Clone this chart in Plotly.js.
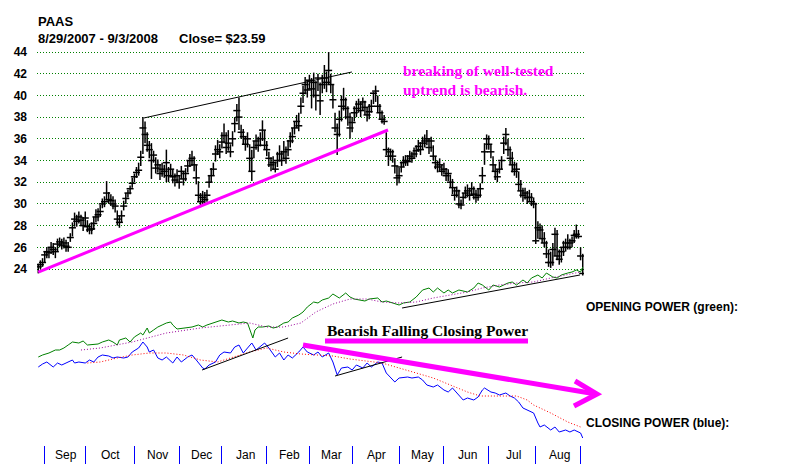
<!DOCTYPE html>
<html><head><meta charset="utf-8">
<script src="https://cdn.plot.ly/plotly-3.0.1.min.js"></script>
<style>html,body{margin:0;padding:0;background:#fff}#chart{width:800px;height:465px}</style>
</head><body><div id="chart"></div>
<script>
// ---------- DATA ----------
const ticker = 'PAAS';
const dateRange = '8/29/2007 - 9/3/2008';
const lastClose = 23.59;
const monthNames = ['Sep','Oct','Nov','Dec','Jan','Feb','Mar','Apr','May','Jun','Jul','Aug','Sep'];
const monthStartDay = [3,22,45,66,86,107,127,147,169,190,211,233,254];
const priceTicks = [24,26,28,30,32,34,36,38,40,42,44];

const high = [
24.5,24.8,25.0,25.6,26.0,26.0,26.5,26.4,26.0,26.8,
26.9,26.8,26.9,26.7,26.5,27.3,28.3,29.2,29.0,29.3,
29.0,28.8,29.3,28.5,28.2,28.3,28.8,29.5,29.6,29.9,
30.5,30.7,32.1,31.1,30.9,30.7,30.4,29.4,28.9,29.4,
30.3,31.0,31.3,31.7,32.4,32.8,33.4,33.8,34.9,38.0,
37.6,36.6,35.8,35.6,34.9,34.3,34.1,33.6,33.8,33.6,
35.0,33.4,33.7,33.2,32.8,33.2,32.6,33.5,33.0,33.3,
34.0,34.6,34.9,34.4,33.6,32.1,31.0,31.2,31.1,31.3,
32.6,33.3,33.8,35.4,35.9,35.5,36.6,37.4,36.6,36.8,
35.5,36.7,38.0,39.2,39.8,37.3,36.9,36.2,36.6,35.5,
35.0,35.8,36.4,36.2,36.6,37.7,36.8,35.8,34.8,34.3,
34.4,33.9,34.8,35.4,34.9,35.8,35.3,35.9,36.6,37.0,
37.6,38.2,38.4,39.8,40.9,41.7,41.4,41.9,41.6,42.1,
41.3,42.0,41.2,41.9,42.8,42.2,44.0,42.0,41.0,38.4,
37.4,38.6,40.0,40.7,39.8,39.0,38.4,38.0,39.0,39.5,
39.7,39.4,39.8,39.5,38.9,39.2,39.6,40.3,40.9,40.0,
39.2,38.6,38.2,36.6,35.2,35.1,35.0,34.2,33.5,33.3,
33.9,34.4,34.5,34.5,34.9,34.8,35.2,35.4,35.9,35.7,
36.2,36.4,36.8,36.0,36.2,35.4,34.4,34.0,34.2,33.6,
33.8,33.3,33.2,32.7,32.3,31.5,31.6,31.3,30.4,31.0,
31.6,31.8,31.5,32.0,31.6,31.3,31.4,31.9,33.4,35.6,
36.4,36.3,35.5,34.4,33.6,33.2,33.9,34.4,36.2,37.0,
36.0,35.3,34.8,33.9,33.8,33.0,32.2,31.5,31.5,31.2,
31.3,31.0,30.6,30.1,28.4,28.2,28.0,27.4,26.6,25.8,
25.6,26.4,27.8,27.6,25.8,26.0,26.6,26.8,27.2,26.8,
27.0,27.6,28.1,27.6,26.0,25.4];
const low = [
23.6,24.0,24.2,24.6,25.0,25.0,25.4,25.3,25.0,25.6,
26.0,25.8,25.9,25.6,25.6,26.5,27.0,27.9,27.9,28.2,
28.0,27.5,28.0,27.4,27.2,27.2,27.6,28.3,28.4,28.8,
29.6,29.7,30.3,30.0,29.8,29.5,29.2,28.0,27.8,28.3,
29.4,30.0,30.6,30.9,31.5,32.0,32.4,32.6,33.5,34.6,
35.6,34.8,34.2,32.3,33.8,32.8,32.9,32.2,32.5,32.4,
32.0,32.0,32.5,31.9,31.6,31.9,31.4,32.3,31.7,32.1,
32.9,33.4,33.5,33.0,31.8,30.2,29.7,30.0,29.9,30.2,
31.5,32.0,32.6,33.9,34.5,34.2,35.1,35.6,34.6,34.9,
34.3,35.3,36.6,37.6,36.8,36.0,35.5,34.9,35.2,33.0,
32.1,34.2,35.0,34.8,35.3,35.8,35.0,34.4,33.4,33.0,
33.2,32.9,33.4,33.9,33.5,34.1,33.7,34.4,35.2,35.6,
36.4,37.0,36.7,38.3,39.3,40.1,39.8,40.6,38.8,39.8,
38.6,40.4,38.2,40.2,40.6,40.3,41.0,40.2,38.8,36.6,
34.5,36.2,37.6,38.6,37.8,37.2,36.0,36.6,37.6,38.0,
38.4,38.0,38.6,38.2,37.6,37.8,38.4,39.2,39.4,38.4,
37.8,37.4,37.3,34.5,33.5,34.0,33.8,32.8,31.7,31.9,
32.9,33.4,33.5,33.5,33.9,33.8,34.2,34.3,34.8,34.5,
35.0,35.2,35.4,34.6,34.8,34.0,33.2,32.9,33.0,32.6,
32.7,32.1,32.1,31.5,30.9,30.3,30.6,29.6,29.5,30.0,
30.5,30.6,30.3,30.8,30.4,30.1,30.3,30.6,31.9,33.6,
35.0,35.0,34.2,33.0,32.2,32.0,32.8,33.2,34.6,35.4,
34.4,33.6,32.9,32.6,32.4,31.2,30.6,30.2,30.4,30.0,
30.2,29.8,29.6,26.3,26.8,26.8,26.4,26.0,25.0,24.2,
24.1,24.3,25.2,24.8,24.4,24.6,25.2,25.6,25.8,25.8,
26.0,26.4,26.8,26.8,24.8,23.4];
const close = [
24.2,24.4,24.6,25.3,25.6,25.5,26.0,25.8,25.6,26.3,
26.5,26.2,26.4,26.1,26.0,26.9,27.8,28.6,28.4,28.8,
28.5,28.0,28.7,27.9,27.6,27.7,28.2,28.8,29.0,29.3,
30.0,30.2,31.0,30.4,30.3,30.0,29.8,28.6,28.3,28.9,
29.8,30.5,31.0,31.4,31.9,32.5,32.9,33.1,34.3,37.0,
36.4,35.4,35.0,34.0,34.5,33.3,33.6,32.8,33.2,33.0,
33.8,32.6,33.2,32.5,32.2,32.6,32.0,33.0,32.3,32.8,
33.5,34.0,34.2,33.6,32.4,30.8,30.2,30.6,30.4,30.8,
32.0,32.6,33.2,34.6,35.0,34.8,35.7,36.3,35.2,35.6,
34.8,36.0,37.4,38.6,38.0,36.6,36.2,35.5,36.0,34.2,
33.0,35.2,35.8,35.4,36.0,36.8,35.4,35.0,34.2,33.6,
33.8,33.2,34.0,34.6,34.0,34.8,34.2,35.0,35.8,36.2,
37.0,37.6,37.2,39.0,40.2,41.0,40.5,41.4,40.6,41.2,
40.0,41.6,39.5,41.0,41.6,41.2,42.3,41.0,39.6,37.0,
36.4,37.8,39.0,39.6,38.8,38.0,37.0,37.5,38.4,38.8,
39.2,38.6,39.4,38.9,38.2,38.5,39.0,40.2,40.4,39.0,
38.4,37.8,37.6,35.0,34.4,34.8,34.4,33.5,32.4,32.6,
33.4,33.8,34.0,33.9,34.4,34.2,34.6,34.9,35.3,35.0,
35.6,35.8,36.0,35.2,35.8,34.4,33.8,33.4,33.6,33.0,
33.2,32.6,32.8,32.0,31.5,30.8,31.2,30.0,29.9,30.6,
31.0,31.2,30.8,31.4,30.9,30.6,30.8,31.4,32.6,34.8,
36.0,35.5,34.8,33.6,33.0,32.5,33.2,34.0,35.6,36.4,
35.0,34.2,33.6,33.0,33.2,31.8,31.2,30.8,31.0,30.6,
30.6,30.2,30.0,26.6,27.8,27.6,26.8,26.4,25.4,24.6,
24.6,25.8,27.2,25.2,24.9,25.6,26.0,26.4,26.0,26.4,
26.6,27.1,27.2,27.0,25.2,23.59];

// Opening Power (green) and its moving average (purple dotted)
const opDays = [0,2,5,8,10,12,14,16,19,21,23,26,28,30,33,35,37,38,41,43,45,48,49,51,52,54,56,58,60,62,63,65,68,70,72,75,77,79,82,84,86,89,91,94,96,98,99.5,100.5,101.5,103,105,108,110,112,115,117,119,122,124,126,129,131,133,136,138,140,141,144,146,148,151,153,155,159,161,163,166,169,171,174,177,180,183,185,187,190,192,194,197,201,204,206,208,211,213,216,220,222,224,227,229,231,234,236,238,241,243,245,248,250,252,254,255];
const opValues = [88,90,92,95,95,97,100,103,102,104,100,101,101,103,105,103,100,105,107,103,108,112,110,117,112,115,118,120,122,123,120,116,117,118,118,120,118,120,122,123,125,123,124,122,123,122,112,107,115,118,118,119,117,118,122,123,127,130,133,138,143,142,145,147,151,148,147,152,148,146,145,144,146,147,143,144,142,140,142,143,148,155,157,153,157,152,155,152,155,153,157,162,160,155,160,158,162,163,160,165,162,167,170,167,172,168,167,170,172,173,175,173,178];
const opMaDays = [20,29,44,60,76,91,99,107,115,123,130,138,146,154,161,169,177,185,193,201,208,216,224,232,240,248,254];
const opMaValues = [95,97,103,112,117,120,122,118,118,122,133,141,146,146,143,142,143,147,150,153,157,160,162,163,167,170,173];

// Closing Power (blue) and its moving average (red dotted)
const cpDays = [0,2,4,7,9,11,13,16,17,19,22,24,26,28,30,33,35,37,40,42,44,47,49,51,52,54,56,58,60,63,65,67,70,72,74,77,78,80,83,85,87,90,92,94,96,98,100,102,105,106,108,111,113,115,117,119,122,124,126,129,131,133,136,138,140,142,145,147,149,152,154,156,159,161,163,165,167,169,173,175,178,180,182,185,187,190,192,194,197,199,201,204,206,208,209,212,214,216,219,221,223,225,227,229,232,234,235,237,240,242,244,247,249,251,254,255];
const cpValues = [78,81,83,78,82,80,82,85,82,83,82,85,83,88,90,89,87,88,87,88,93,97,103,98,93,95,87,85,88,82,88,83,88,90,85,77,76,80,83,90,93,92,98,100,92,97,102,95,100,102,97,88,92,85,90,87,93,98,93,90,93,88,92,83,70,77,78,75,80,77,82,78,83,82,72,67,63,67,68,67,68,65,60,58,60,55,53,57,50,45,47,45,48,55,57,53,52,50,52,49,47,43,37,35,32,22,18,20,15,18,13,15,13,15,12,7];
const cpMaDays = [23,29,37,44,52,60,68,76,84,91,99,107,115,123,130,138,146,154,161,169,177,185,193,201,207,216,224,229,232,240,248,254];
const cpMaValues = [82,83,87,90,92,92,90,85,83,88,93,97,93,91,90,89,86,84,82,77,72,67,60,53,49,49,49,45,40,32,23,18];

// Hand-drawn trend lines (day index, value)
const upTrendDays = [0, 163.8], upTrendPrices = [23.72, 36.81];
const topTrendDays = [49.5, 146.9], topTrendPrices = [37.92, 42.16];
const opTrendDays = [170.4, 253.7], opTrendValues = [137, 170];
const cpTrend1Days = [76.7, 117.0], cpTrend1Values = [75, 107];
const cpTrend2Days = [139.0, 170.4], cpTrend2Values = [69, 88];

// ---------- BUILD ----------
const barX = [], barY = [], dayIdx = [];
for (let i = 0; i < close.length; i++) {
  barX.push(i, i, null); barY.push(low[i], high[i], null); dayIdx.push(i);
}
const SANS = 'Liberation Sans, Arial, sans-serif';
const SERIF = 'Liberation Serif, Times New Roman, serif';
const MAG = '#ff00ff';

const traces = [
  {x: opDays, y: opValues, yaxis: 'y2', mode: 'lines', line: {color: '#008000', width: 1}, hoverinfo: 'skip'},
  {x: opMaDays, y: opMaValues, yaxis: 'y2', mode: 'lines', line: {color: '#990099', width: 1, dash: '1px,2px'}, hoverinfo: 'skip'},
  {x: cpDays, y: cpValues, yaxis: 'y2', mode: 'lines', line: {color: '#0000ff', width: 1}, hoverinfo: 'skip'},
  {x: cpMaDays, y: cpMaValues, yaxis: 'y2', mode: 'lines', line: {color: '#ff0000', width: 1, dash: '1px,2px'}, hoverinfo: 'skip'},
  {x: opTrendDays, y: opTrendValues, yaxis: 'y2', mode: 'lines', line: {color: '#000', width: 1}, hoverinfo: 'skip'},
  {x: cpTrend1Days, y: cpTrend1Values, yaxis: 'y2', mode: 'lines', line: {color: '#000', width: 1}, hoverinfo: 'skip'},
  {x: cpTrend2Days, y: cpTrend2Values, yaxis: 'y2', mode: 'lines', line: {color: '#000', width: 1}, hoverinfo: 'skip'},
  {x: barX, y: barY, mode: 'lines', line: {color: '#000', width: 1.5}, hoverinfo: 'skip', connectgaps: false},
  {x: dayIdx, y: close, mode: 'markers', marker: {symbol: 'line-ew', size: 5, line: {color: '#000', width: 1.5}}, hoverinfo: 'skip'},
  {x: upTrendDays, y: upTrendPrices, mode: 'lines', line: {color: MAG, width: 3}, hoverinfo: 'skip'},
  {x: topTrendDays, y: topTrendPrices, mode: 'lines', line: {color: '#000', width: 1}, hoverinfo: 'skip'}
];

// plot geometry helpers for annotations (paper coords from page pixels)
const L = 37, W = 547, T = 40, H = 405;
const px = v => (v - L) / W;
const py = v => (T + H - v) / H;

const annotations = [
  {text: ticker, xref: 'paper', yref: 'paper', x: px(36), y: py(22), xanchor: 'left', yanchor: 'middle', showarrow: false, font: {family: SANS, size: 13, color: '#000', weight: 'bold'}},
  {text: dateRange, xref: 'paper', yref: 'paper', x: px(36), y: py(38.5), xanchor: 'left', yanchor: 'middle', showarrow: false, font: {family: SANS, size: 13, color: '#000', weight: 'bold'}},
  {text: 'Close= $' + lastClose.toFixed(2), xref: 'paper', yref: 'paper', x: px(177), y: py(38.5), xanchor: 'left', yanchor: 'middle', showarrow: false, font: {family: SANS, size: 13, color: '#000', weight: 'bold'}},
  {text: 'breaking of well-tested', xref: 'paper', yref: 'paper', x: px(401), y: py(71), xanchor: 'left', yanchor: 'middle', showarrow: false, font: {family: SERIF, size: 15.5, color: MAG, weight: 'bold'}},
  {text: 'uptrend is bearish.', xref: 'paper', yref: 'paper', x: px(401), y: py(89), xanchor: 'left', yanchor: 'middle', showarrow: false, font: {family: SERIF, size: 15.5, color: MAG, weight: 'bold'}},
  {text: 'Bearish Falling Closing Power', xref: 'paper', yref: 'paper', x: px(427), y: py(330), xanchor: 'center', yanchor: 'middle', showarrow: false, font: {family: SERIF, size: 15.5, color: '#000', weight: 'bold'}},
  {text: 'OPENING POWER (green):', xref: 'paper', yref: 'paper', x: px(584), y: py(307), xanchor: 'left', yanchor: 'middle', showarrow: false, font: {family: SANS, size: 12, color: '#000', weight: 'bold'}},
  {text: 'CLOSING POWER (blue):', xref: 'paper', yref: 'paper', x: px(584), y: py(423), xanchor: 'left', yanchor: 'middle', showarrow: false, font: {family: SANS, size: 12, color: '#000', weight: 'bold'}}
];
for (let m = 0; m < monthNames.length; m++) {
  const a = monthStartDay[m];
  const b = m + 1 < monthStartDay.length ? monthStartDay[m + 1] : a + 22;
  annotations.push({text: monthNames[m], xref: 'x', yref: 'paper', x: (a + b) / 2 + 0.5, y: py(455), xanchor: 'center', yanchor: 'middle', showarrow: false, font: {family: SANS, size: 12, color: '#000'}});
}

const shapes = [
  {type: 'line', xref: 'paper', yref: 'paper', x0: px(325), y0: py(341), x1: px(528), y1: py(341), line: {color: MAG, width: 5}},
  {type: 'line', xref: 'paper', yref: 'paper', x0: px(303), y0: py(345), x1: px(596), y1: py(394), line: {color: MAG, width: 5}},
  {type: 'path', xref: 'paper', yref: 'paper', path: 'M ' + px(575) + ' ' + py(381) + ' L ' + px(597) + ' ' + py(394) + ' L ' + px(574) + ' ' + py(406), line: {color: MAG, width: 5}}
];

const layout = {
  width: 800, height: 465,
  margin: {l: L, r: 800 - L - W, t: T, b: 465 - T - H},
  paper_bgcolor: '#fff', plot_bgcolor: '#fff',
  showlegend: false,
  xaxis: {range: [-0.6, 255.6], tickmode: 'array', tickvals: monthStartDay, ticks: 'outside', ticklen: 18, tickwidth: 1, tickcolor: '#0000ff', showticklabels: false, showgrid: false, zeroline: false, showline: false, fixedrange: true},
  yaxis: {range: [7.78, 45.106], tickmode: 'array', tickvals: priceTicks, ticks: '', showgrid: true, gridcolor: '#008000', gridwidth: 1, griddash: '1px,2px', zeroline: false, showline: false, ticklabelstandoff: 9, tickfont: {family: SANS, size: 12, color: '#000', weight: 'bold'}, fixedrange: true},
  yaxis2: {overlaying: 'y', range: [0, 405], visible: false, fixedrange: true},
  annotations: annotations,
  shapes: shapes
};

Plotly.newPlot('chart', traces, layout, {displayModeBar: false, staticPlot: true});
</script>
</body></html>
